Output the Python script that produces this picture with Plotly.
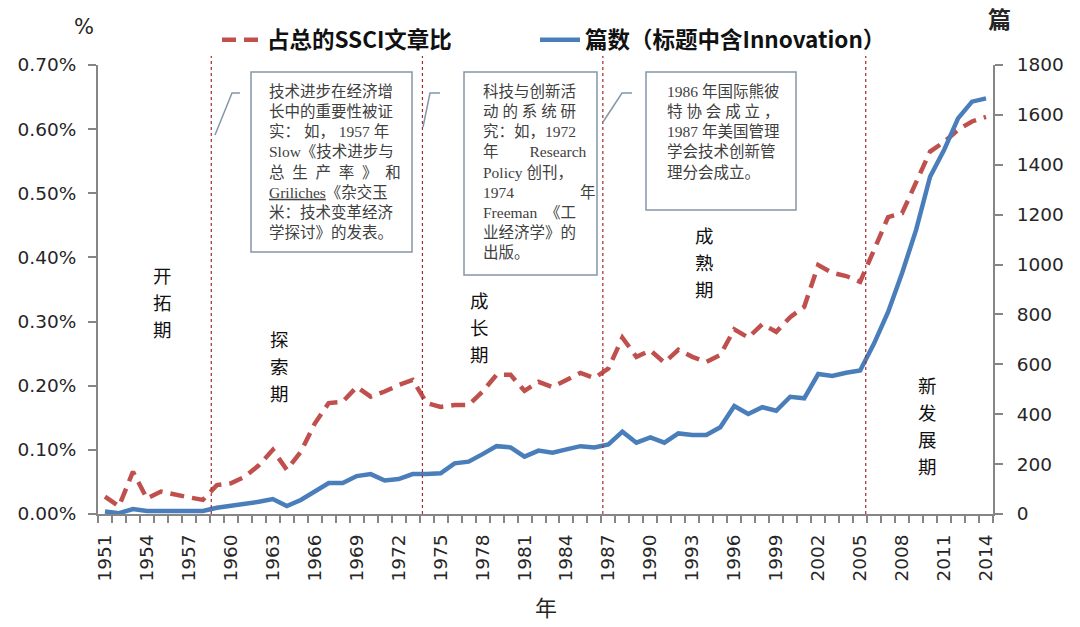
import plotly.graph_objects as go

years = list(range(1951, 2015))
share_pct = [0.027, 0.012, 0.066, 0.024, 0.035, 0.030, 0.026, 0.022, 0.045, 0.048,
             0.058, 0.076, 0.100, 0.069, 0.097, 0.141, 0.173, 0.175, 0.198, 0.183,
             0.191, 0.201, 0.209, 0.173, 0.167, 0.170, 0.170, 0.191, 0.217, 0.217,
             0.192, 0.206, 0.198, 0.209, 0.220, 0.212, 0.227, 0.275, 0.245, 0.255,
             0.236, 0.256, 0.245, 0.237, 0.248, 0.288, 0.275, 0.296, 0.284, 0.307,
             0.323, 0.388, 0.376, 0.371, 0.362, 0.412, 0.463, 0.469, 0.516, 0.565,
             0.580, 0.599, 0.612, 0.619]
counts = [10, 3, 20, 12, 12, 12, 12, 12, 25, 32,
          40, 49, 60, 32, 56, 89, 124, 124, 152, 160,
          134, 140, 160, 160, 163, 203, 210, 240, 272, 267,
          230, 254, 246, 259, 272, 267, 279, 330, 286, 307,
          286, 323, 317, 317, 348, 433, 401, 428, 414, 470,
          464, 561, 553, 566, 575, 684, 810, 966, 1139, 1352,
          1459, 1586, 1653, 1666]
tick_years = list(range(1951, 2015, 3))
tick_labels = [str(y) for y in tick_years]
left_ticks = [0.0, 0.1, 0.2, 0.3, 0.4, 0.5, 0.6, 0.7]
left_tick_text = ["0.00%", "0.10%", "0.20%", "0.30%", "0.40%", "0.50%", "0.60%", "0.70%"]
period_breaks = [1958.6, 1973.7, 1986.6, 2005.4]
period_names = ["开拓期", "探索期", "成长期", "成熟期", "新发展期"]
series_names = ["占总的SSCI文章比", "篇数（标题中含Innovation）"]

NB = "\u00a0"
box_texts = [
    ["技术进步在经济增", "长中的重要性被证", "实：" + NB + "如，" + NB + "1957" + NB + "年",
     "Slow《技术进步与", "总" + NB * 2 + "生" + NB * 2 + "产" + NB * 2 + "率" + NB * 2 + "》" + NB * 2 + "和",
     "<u>Griliches</u>《杂交玉", "米：技术变革经济", "学探讨》的发表。"],
    ["科技与创新活", "动" + NB + "的" + NB + "系" + NB + "统" + NB + "研", "究：如，1972",
     "年" + NB * 8 + "Research", "Policy" + NB + "创刊，", "1974" + NB * 17 + "年",
     "Freeman" + NB * 2 + "《工", "业经济学》的", "出版。"],
    ["1986" + NB + "年国际熊彼", "特" + NB + "协" + NB + "会" + NB + "成" + NB + "立" + NB + "，",
     "1987" + NB + "年美国管理", "学会技术创新管", "理分会成立。"],
]

# pixel helpers for decorations (plot area: x 98..993, y 65..514)
L, R, T, B = 98, 993, 65, 514
def px(x):
    return (x - L) / (R - L)
def py(y):
    return (B - y) / (B - T)

RED = "#C0504D"
BLUE = "#4A7EBB"
AXIS = "#868686"
TXT = "#262626"

fig = go.Figure()
fig.add_trace(go.Scatter(x=years, y=share_pct, name=series_names[0], mode="lines",
                         line=dict(color=RED, width=4.5, dash="14px,8px"),
                         yaxis="y", legend="legend", showlegend=True))
fig.add_trace(go.Scatter(x=years, y=counts, name=series_names[1], mode="lines",
                         line=dict(color=BLUE, width=4.5),
                         yaxis="y2", legend="legend2", showlegend=True))

shapes = []
for xb in period_breaks:
    shapes.append(dict(type="line", xref="x", yref="paper", x0=xb, x1=xb, y0=0, y1=1.02,
                       line=dict(color="#A52A2A", width=1.2, dash="dot")))

# callout boxes and leaders
boxes = [(251, 72, 412, 252), (464, 72, 597, 275), (646, 72, 796, 210)]
leaders = [[(215, 135), (232, 93), (240, 93)],
           [(423, 127), (430, 93), (440, 93)],
           [(603, 122), (622, 93), (632, 93)]]
for (x0, y0, x1, y1) in boxes:
    shapes.append(dict(type="rect", xref="paper", yref="paper",
                       x0=px(x0), x1=px(x1), y0=py(y1), y1=py(y0),
                       line=dict(color="#8497A8", width=1.5), fillcolor="white"))
for pts in leaders:
    path = "M " + " L ".join(f"{px(a)},{py(b)}" for a, b in pts)
    shapes.append(dict(type="path", xref="paper", yref="paper", path=path,
                       line=dict(color="#8497A8", width=1.5)))

annotations = []
text_pos = [(267, 81), (481, 81), (665, 81)]
for (tx, ty), lines in zip(text_pos, box_texts):
    annotations.append(dict(xref="paper", yref="paper", x=px(tx), y=py(ty),
                            xanchor="left", yanchor="top", align="left", showarrow=False,
                            text="<br>".join(lines),
                            font=dict(family="Liberation Serif, Noto Sans CJK SC", size=15.5,
                                      color="#404040")))

period_pos = [(162, 275), (279, 339), (479, 300), (704, 235), (927, 385)]
for (tx, ty), name in zip(period_pos, period_names):
    for k, ch in enumerate(name):
        annotations.append(dict(xref="paper", yref="paper", x=px(tx), y=py(ty + 27 * k),
                                xanchor="center", yanchor="middle", showarrow=False,
                                text=ch,
                                font=dict(family="Noto Sans CJK SC", size=18.5, color="#111111")))

annotations.append(dict(xref="paper", yref="paper", x=px(84), y=py(27), showarrow=False,
                        xanchor="center", yanchor="middle", text="%",
                        font=dict(family="DejaVu Sans", size=21, color=TXT)))
annotations.append(dict(xref="paper", yref="paper", x=px(1000), y=py(18), showarrow=False,
                        xanchor="center", yanchor="middle", text="<b>篇</b>",
                        font=dict(family="Noto Sans CJK SC", size=23, color=TXT)))
annotations.append(dict(xref="paper", yref="paper", x=px(546), y=py(606), showarrow=False,
                        xanchor="center", yanchor="middle", text="年",
                        font=dict(family="Noto Sans CJK SC", size=22, color=TXT)))

tickfont = dict(family="DejaVu Sans", size=18.5, color=TXT)
legfont = dict(family="Noto Sans CJK SC", size=22.5, color="#111111", weight="bold")

fig.update_layout(
    width=1080, height=627, showlegend=True,
    margin=dict(l=L, r=1080 - R, t=T, b=627 - B, autoexpand=False),
    paper_bgcolor="white", plot_bgcolor="white",
    xaxis=dict(type="linear", range=[1950.5, 2014.5], tickmode="array",
               tickvals=tick_years, ticktext=tick_labels, tickangle=-90,
               ticks="outside", ticklen=7, tickcolor="rgba(0,0,0,0)",
               ticklabelstandoff=4,
               minor=dict(tickmode="linear", tick0=1950.5, dtick=1, ticks="outside",
                          ticklen=7, tickcolor=AXIS, tickwidth=1.5),
               showline=True, linecolor=AXIS, linewidth=2, showgrid=False, zeroline=False,
               tickfont=tickfont, fixedrange=True),
    yaxis=dict(range=[0, 0.7], tickmode="array", tickvals=left_ticks, ticktext=left_tick_text,
               ticks="outside", ticklen=8, tickcolor=AXIS, tickwidth=1.5, ticklabelstandoff=8,
               showline=True, linecolor=AXIS, linewidth=2, showgrid=False, zeroline=False,
               tickfont=tickfont),
    yaxis2=dict(range=[0, 1800], dtick=200, overlaying="y", side="right",
                ticks="outside", ticklen=8, tickcolor=AXIS, tickwidth=1.5, ticklabelstandoff=10,
                showline=True, linecolor=AXIS, linewidth=2, showgrid=False, zeroline=False,
                tickfont=tickfont),
    legend=dict(x=px(217), y=py(40), xanchor="left", yanchor="middle", orientation="h",
                font=legfont, itemwidth=40, bgcolor="rgba(0,0,0,0)"),
    legend2=dict(x=px(535), y=py(40), xanchor="left", yanchor="middle", orientation="h",
                 font=legfont, itemwidth=40, bgcolor="rgba(0,0,0,0)"),
    shapes=shapes, annotations=annotations,
)

fig.write_html("out.html", config={"displayModeBar": False},
               post_script="document.body.style.margin='0';document.body.style.overflow='hidden';")
